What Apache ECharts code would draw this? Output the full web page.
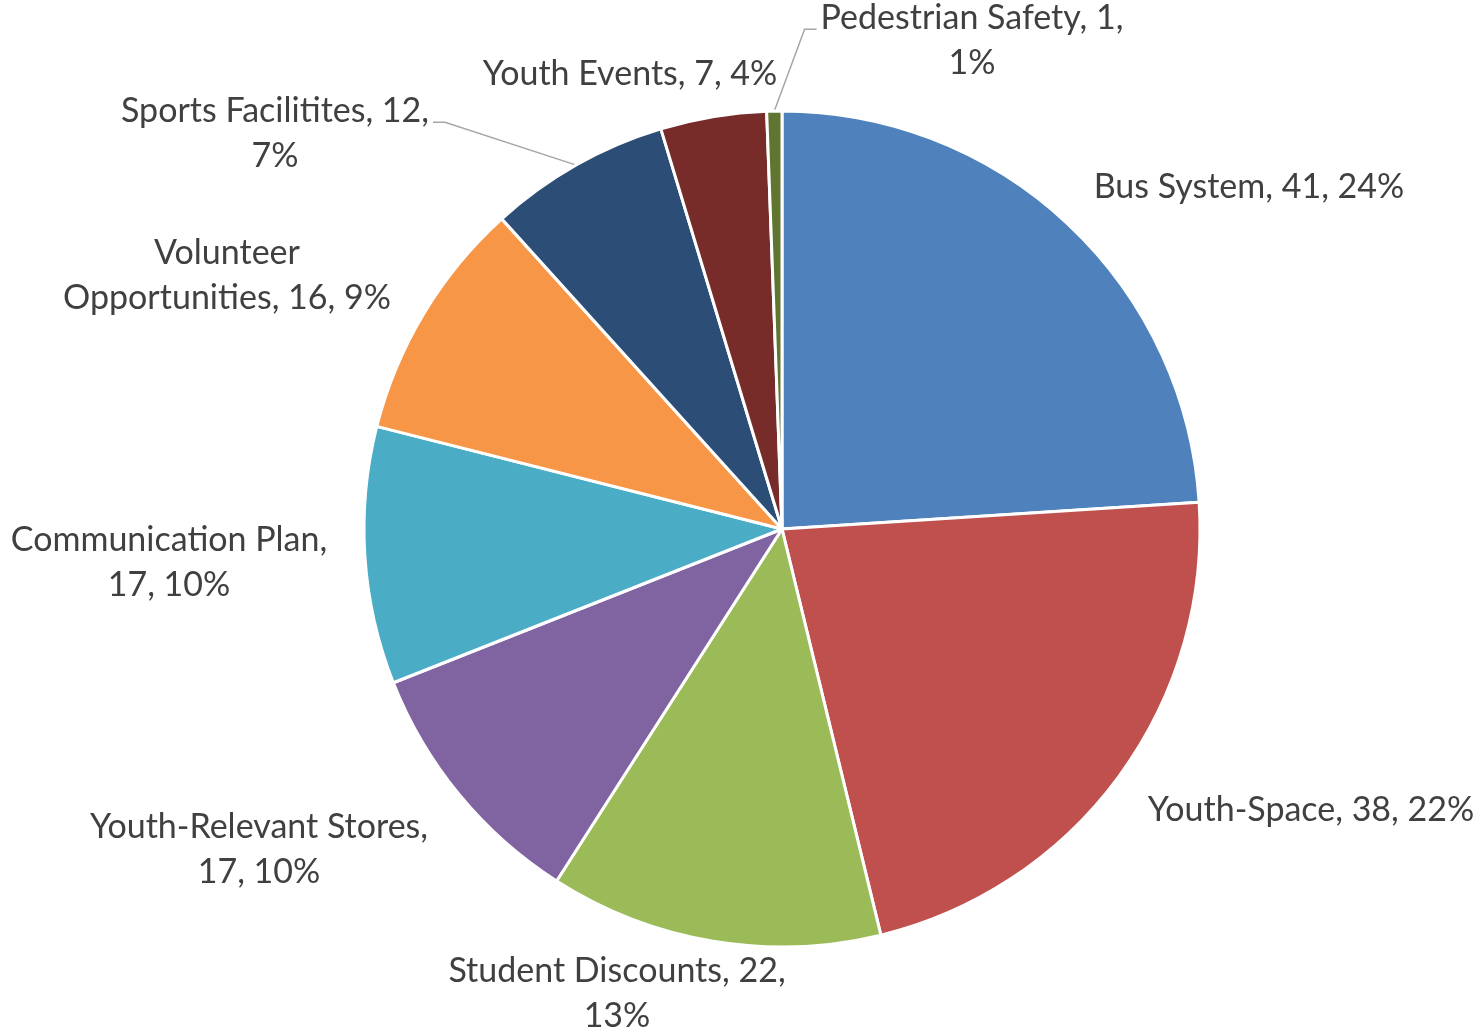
<!DOCTYPE html>
<html>
<head>
<meta charset="utf-8">
<style>
  html, body { margin: 0; padding: 0; background: #fff; }
  #chart { width: 1474px; height: 1030px; }
</style>
<script src="https://cdn.jsdelivr.net/npm/echarts@6/dist/echarts.min.js"></script>
</head>
<body>
<div id="chart"></div>
<script>
// chart values
const categories = ['Bus System', 'Youth-Space', 'Student Discounts', 'Youth-Relevant Stores', 'Communication Plan', 'Volunteer Opportunities', 'Sports Facilitites', 'Youth Events', 'Pedestrian Safety'];
const values = [41, 38, 22, 17, 17, 16, 12, 7, 1];
const colors = ['#4f81bd', '#c0504d', '#9bbb59', '#8064a2', '#4bacc6', '#f79646', '#2c4d75', '#772c2a', '#5f7530'];
// which labels get a leader line
const leaderLine = [false, false, false, false, false, false, true, false, true];

// layout: pie geometry and label centres (relative to pie centre)
const CENTER = [782, 529];
const RADIUS = 418;
const LABEL_FONT = '34px Lato';
const LABEL_MAX_WIDTH = 350;
const labelOffsets = [
  [467, -342], [529, 281], [-165, 465], [-523, 321], [-613, 34],
  [-555, -253], [-507, -395], [-152, -455], [190, -488],
];

const total = values.reduce((a, b) => a + b, 0);
const midAngles = [];
let acc = 0;
values.forEach((v) => {
  midAngles.push(((acc + v / 2) / total) * 2 * Math.PI);
  acc += v;
});

// word wrap like the office label box, so the label rect is the real text width
const measureCtx = document.createElement('canvas').getContext('2d');
measureCtx.font = LABEL_FONT;
const wrap = (text) => {
  const words = text.split(' ');
  const lines = [];
  let line = '';
  words.forEach((w) => {
    const next = line ? line + ' ' + w : w;
    if (line && measureCtx.measureText(next).width > LABEL_MAX_WIDTH) {
      lines.push(line);
      line = w;
    } else {
      line = next;
    }
  });
  lines.push(line);
  return lines.join('\n');
};

const chart = echarts.init(document.getElementById('chart'));
const option = {
  animation: false,
  series: [
    {
      type: 'pie',
      center: CENTER,
      radius: RADIUS,
      startAngle: 90,
      clockwise: true,
      avoidLabelOverlap: false,
      itemStyle: { borderColor: '#fff', borderWidth: 3 },
      label: {
        show: true,
        position: 'outside',
        color: '#404040',
        fontFamily: 'Lato',
        fontSize: 34,
        lineHeight: 45,
        align: 'center',
        formatter: (p) => wrap(`${p.name}, ${p.value}, ${Math.round(p.percent)}%`),
      },
      labelLine: { show: false, lineStyle: { color: '#a6a6a6', width: 1.5 } },
      data: categories.map((name, i) => ({
        name,
        value: values[i],
        itemStyle: { color: colors[i] },
        labelLine: { show: leaderLine[i] },
      })),
    },
  ],
};

option.series[0].labelLayout = (params) => {
  const i = params.dataIndex;
  const cx = CENTER[0] + labelOffsets[i][0];
  const cy = CENTER[1] + labelOffsets[i][1];
  const w = params.labelRect.width;
  const h = params.labelRect.height;
  const res = { x: cx, y: cy, align: 'center', verticalAlign: 'middle' };
  if (leaderLine[i]) {
    const a = midAngles[i];
    const start = [CENTER[0] + RADIUS * Math.sin(a), CENTER[1] - RADIUS * Math.cos(a)];
    // side = 1 when the label sits left of the slice, so the line meets its right edge
    const side = start[0] > cx ? 1 : -1;
    const endX = cx + side * (w / 2 + 4);
    const endY = cy - h / 2 + h * 0.37;
    res.labelLinePoints = [start, [endX + side * 12, endY], [endX, endY]];
  }
  return res;
};

chart.setOption(option);
</script>
</body>
</html>
